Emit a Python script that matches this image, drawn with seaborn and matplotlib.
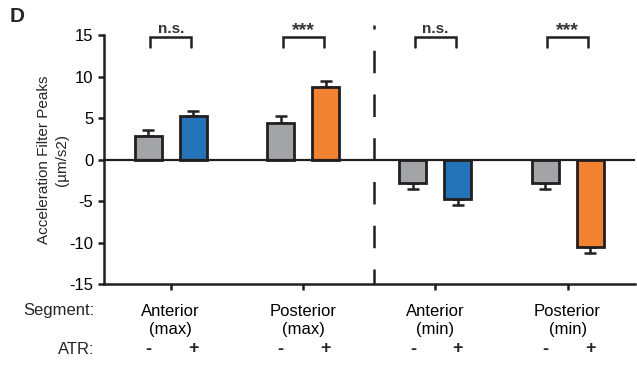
import matplotlib
matplotlib.use("Agg")
import matplotlib.pyplot as plt
import matplotlib.transforms as mtransforms
import seaborn as sns
import pandas as pd
import numpy as np

# ---- data ----
segments = ["Anterior\n(max)", "Posterior\n(max)", "Anterior\n(min)", "Posterior\n(min)"]
atr_levels = ["-", "+"]
values_minus = [2.9, 4.4, -2.8, -2.8]
values_plus = [5.2, 8.8, -4.8, -10.5]
err_minus = [0.7, 0.8, 0.7, 0.7]
err_plus = [0.7, 0.7, 0.7, 0.7]
sig_labels = ["n.s.", "***", "n.s.", "***"]
yticks = [-15, -10, -5, 0, 5, 10, 15]

gray = "#A3A4A7"
blue = "#2472B8"
orange = "#F08232"
dark = "#231F20"
plus_colors = [blue, orange, blue, orange]

df = pd.DataFrame({
    "Segment": segments * 2,
    "ATR": ["-"] * 4 + ["+"] * 4,
    "Value": values_minus + values_plus,
    "Err": err_minus + err_plus,
})

sns.set_theme(style="ticks")
plt.rcParams["font.family"] = ["Liberation Sans", "DejaVu Sans"]

fig = plt.figure(figsize=(6.37, 3.70), dpi=100)
ax = fig.add_axes([0.163, 0.232, 0.834, 0.673])

sns.barplot(data=df, x="Segment", y="Value", hue="ATR", order=segments,
            hue_order=atr_levels, palette=[gray, blue], width=0.68, gap=0.4,
            errorbar=None, edgecolor=dark, linewidth=2.0, legend=False, ax=ax,
            zorder=3)

# recolor and add one-sided error bars
for patch in ax.patches:
    w = patch.get_width()
    cx = patch.get_x() + w / 2
    ci = int(round(cx))
    is_plus = cx > ci
    if is_plus:
        patch.set_facecolor(plus_colors[ci])
        v, e = values_plus[ci], err_plus[ci]
    else:
        v, e = values_minus[ci], err_minus[ci]
    yerr = [[0], [e]] if v > 0 else [[e], [0]]
    ax.errorbar([cx], [v], yerr=yerr, fmt="none", ecolor=dark, elinewidth=1.8,
                capsize=4.5, capthick=1.8, zorder=2)

ax.set_xlim(-0.506, 3.51)
ax.set_ylim(-15, 15)
ax.set_yticks(yticks)
ax.set_yticklabels([str(t) for t in yticks], fontsize=12)
ax.axhline(0, color=dark, lw=1.6, zorder=4)

# dashed divider
ax.plot([1.54, 1.54], [-15, 16.2], color=dark, lw=1.8, ls=(3, (9, 8.5)),
        clip_on=False, zorder=1)

# significance brackets
for i, lab in enumerate(sig_labels):
    x0, x1 = i - 0.155, i + 0.155
    ax.plot([x0, x0, x1, x1], [13.6, 14.75, 14.75, 13.6], color=dark, lw=1.8,
            clip_on=False, solid_joinstyle="miter")
    if lab == "***":
        ax.text(i, 14.55, lab, ha="center", va="bottom", fontsize=14,
                fontweight="bold", color="#333333", clip_on=False)
    else:
        ax.text(i, 14.9, lab, ha="center", va="bottom", fontsize=11,
                fontweight="bold", color="#333333", clip_on=False)

sns.despine(ax=ax)
for s in ["left", "bottom"]:
    ax.spines[s].set_linewidth(1.8)
    ax.spines[s].set_color(dark)
ax.tick_params(axis="both", width=1.8, length=4, color=dark, labelcolor="black")
ax.tick_params(axis="x", pad=10, labelsize=12)
for lbl in ax.get_xticklabels():
    lbl.set_linespacing(1.3)
ax.set_xlabel("")
ax.set_ylabel("Acceleration Filter Peaks\n(µm/s2)", fontsize=11,
              linespacing=1.3)
ax.yaxis.set_label_coords(-0.066, 0.5)

# ATR +/- row
trans = mtransforms.blended_transform_factory(ax.transData, fig.transFigure)
for patch in ax.patches:
    w = patch.get_width()
    cx = patch.get_x() + w / 2
    ci = int(round(cx))
    sign = "+" if cx > ci else "-"
    ax.text(cx, 1 - 349 / 370, sign, transform=trans, ha="center", va="center",
            fontsize=13, fontweight="bold")

fig.text(94 / 637, 1 - 311 / 370, "Segment:", ha="right", va="center", fontsize=12)
fig.text(94 / 637, 1 - 349 / 370, "ATR:", ha="right", va="center", fontsize=12)
fig.text(10 / 637, 1 - 17 / 370, "D", ha="left", va="center", fontsize=15,
         fontweight="bold")

fig.savefig("out.png", dpi=100)
